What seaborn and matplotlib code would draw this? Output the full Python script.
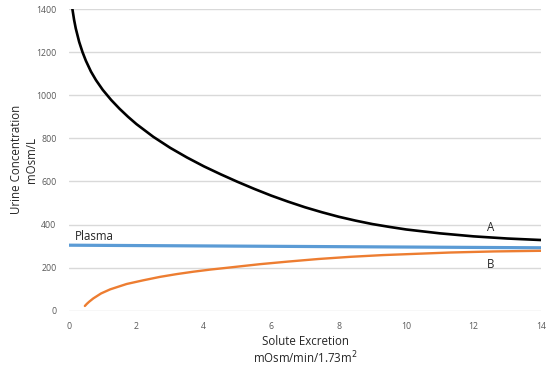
import matplotlib
matplotlib.use("Agg")
import matplotlib.pyplot as plt
import seaborn as sns
import pandas as pd

# Curve A (black)
a_x = [0.10, 0.15, 0.20, 0.30, 0.40, 0.50, 0.65, 0.80, 1.00, 1.25, 1.50, 1.75, 2.00, 2.50, 3.00, 3.50, 4.00,
       4.5, 5.0, 5.5, 6.0, 6.5, 7.0, 7.5, 8.0, 8.5, 9.0, 9.5, 10.0, 11.0, 12.0, 13.0, 14.0]
a_y = [1400, 1350, 1310, 1248, 1200, 1160, 1110, 1070, 1025, 978, 937, 900, 866, 807, 756, 711, 670,
       633, 598, 565, 534, 506, 480, 457, 436, 418, 402, 389, 377, 359, 345, 335, 328]
# Plasma (blue)
p_x = [0, 14]
p_y = [304, 292]
# Curve B (orange)
b_x = [0.47, 0.53, 0.6, 0.72, 0.95, 1.22, 1.71, 2.2, 2.7, 3.2, 3.69, 4.2, 4.68, 5.2, 5.67, 6.5, 7.4, 8.34, 9.3, 10.3, 11.3, 12.6, 14.0]
b_y = [22, 32, 42, 57, 80, 99, 124, 141, 157, 170, 181, 191, 199, 208, 216, 228, 240, 250, 258, 264, 270, 275, 278]

x_ticks = [0, 2, 4, 6, 8, 10, 12, 14]
y_ticks = [0, 200, 400, 600, 800, 1000, 1200, 1400]

sns.set_theme(style="white")
plt.rcParams['font.family'] = ['Open Sans', 'DejaVu Sans']

fig = plt.figure(figsize=(5.5, 3.69), dpi=100)
ax = fig.add_axes([0.1255, 0.1580, 0.8581, 0.8175])

for y in y_ticks:
    ax.axhline(y, color="#D9D9D9", lw=1.0, zorder=0)

dfa = pd.DataFrame({"x": a_x, "y": a_y})
dfp = pd.DataFrame({"x": p_x, "y": p_y})
dfb = pd.DataFrame({"x": b_x, "y": b_y})
sns.lineplot(data=dfa, x="x", y="y", ax=ax, color="black", lw=1.9, sort=False)
sns.lineplot(data=dfp, x="x", y="y", ax=ax, color="#5B9BD5", lw=2.3, sort=False)
sns.lineplot(data=dfb, x="x", y="y", ax=ax, color="#ED7D31", lw=1.7, sort=False)

ax.set_xlim(0, 14)
ax.set_ylim(0, 1400)
ax.set_xticks(x_ticks)
ax.set_yticks(y_ticks)
ax.tick_params(axis="both", labelsize=6.3, colors="#595959", length=0, pad=9)
ax.tick_params(axis="x", pad=8)
for s in ax.spines.values():
    s.set_visible(False)

ax.set_xlabel("Solute Excretion\nmOsm/min/1.73m$^2$", fontsize=8.3, color="#262626", labelpad=3, linespacing=1.15)
ax.set_ylabel("Urine Concentration\nmOsm/L", fontsize=8.3, color="#262626", labelpad=-1, linespacing=1.2)

ax.text(0.17, 345, "Plasma", fontsize=8.3, color="#262626", ha="left", va="center")
ax.text(12.5, 388, "A", fontsize=8.3, color="#262626", ha="center", va="center")
ax.text(12.5, 216, "B", fontsize=8.3, color="#262626", ha="center", va="center")

fig.savefig("out.png", dpi=100)
